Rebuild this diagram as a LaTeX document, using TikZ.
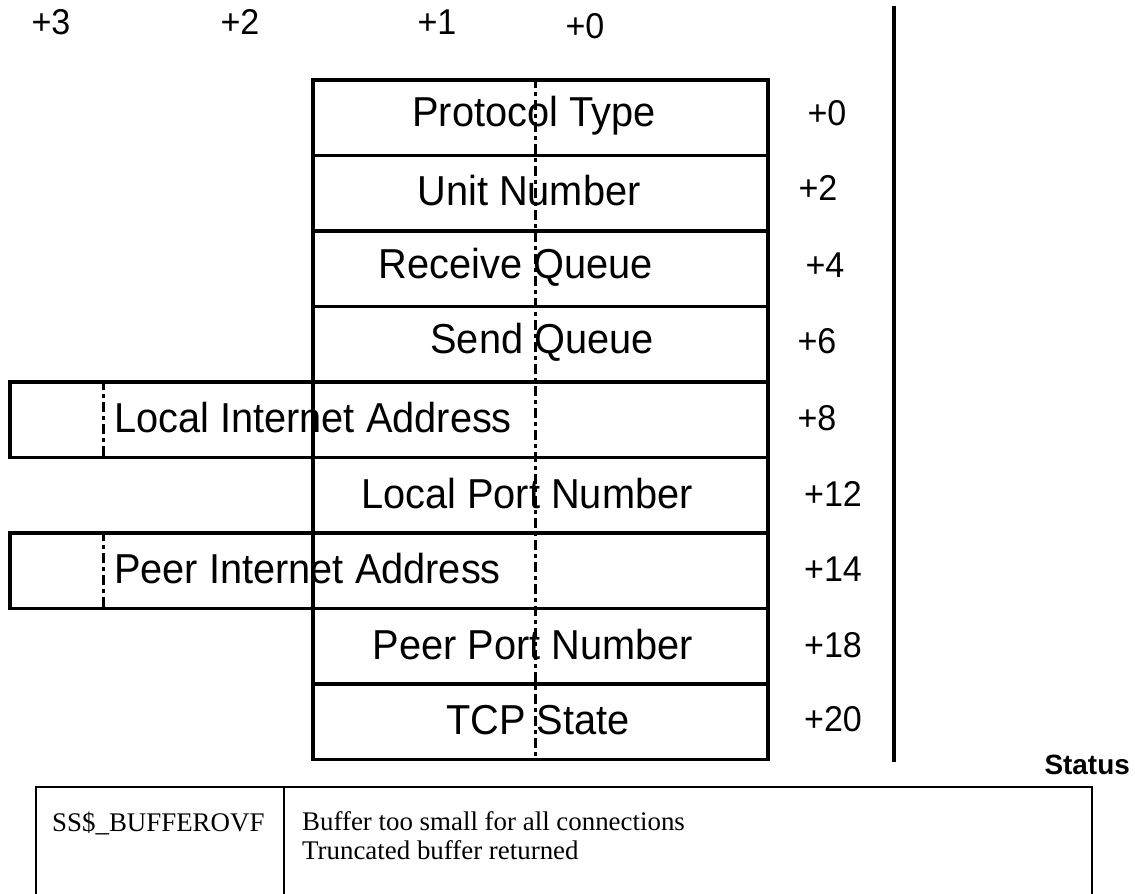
\documentclass[tikz,border=0pt]{standalone}
\usepackage{fontspec}
\newfontfamily\pix[FakeStretch=0.95]{Liberation Sans}
\newfontfamily\tms{Liberation Serif}
\newfontfamily\hb{Liberation Sans}
\begin{document}
\begin{tikzpicture}[x=1bp,y=-1bp,
  rowbox/.style={draw, line width=3.5bp, minimum width=455bp, minimum height=75.5bp, inner sep=0pt, anchor=north west},
  widebox/.style={draw, line width=3.5bp, minimum width=758bp, minimum height=75.5bp, inner sep=0pt, anchor=north west},
  lbl/.style={font=\pix\fontsize{42}{44}\selectfont, inner sep=0pt},
  off/.style={font=\pix\fontsize{36}{38}\selectfont, inner sep=0pt},
  dashline/.style={line width=3bp, dash pattern=on 10bp off 4bp on 4bp off 4bp},
  thickline/.style={line width=3.5bp},
  tabline/.style={line width=2.2bp},
  tabtxt/.style={font=\tms\fontsize{27}{28}\selectfont, inner sep=0pt, anchor=base west}]
\useasboundingbox (0,0) rectangle (1135,894);

% column headers
\node[off] (c3) at (51,22) {+3};
\node[off] (c2) at (240,22) {+2};
\node[off] (c1) at (437,22) {+1};
\node[off] (c0) at (585,26) {+0};

% main column rows
\node[rowbox] (r1) at (311,78) {};
\node[rowbox] (r2) at (311,153.5) {};
\node[rowbox] (r3) at (311,229) {};
\node[rowbox] (r4) at (311,304.5) {};
\node[rowbox] (r5) at (311,380) {};
\node[rowbox] (r6) at (311,455.5) {};
\node[rowbox] (r7) at (311,531) {};
\node[rowbox] (r8) at (311,606.5) {};
\node[rowbox] (r9) at (311,682) {};

% wide rows
\node[widebox] (w5) at (8,380) {};
\node[widebox] (w7) at (8,531) {};

% dashed dividers
\coordinate (dtop) at (535,78);
\coordinate (dbot) at (535,758);
\draw[dashline] (dtop) -- (dbot);
\coordinate (d5t) at (103,380);
\coordinate (d5b) at (103,455.5);
\draw[dashline] (d5t) -- (d5b);
\coordinate (d7t) at (103,531);
\coordinate (d7b) at (103,606.5);
\draw[dashline] (d7t) -- (d7b);

% row texts
\node[lbl] (t1) at (534,116) {Protocol Type};
\node[lbl] (t2) at (529,191) {Unit Number};
\node[lbl] (t3) at (516,267) {Receive Queue};
\node[lbl] (t4) at (542,342) {Send Queue};
\node[lbl, anchor=west] (t5) at (114,418) {Local Internet Address};
\node[lbl] (t6) at (527,494) {Local Port Number};
\node[lbl, anchor=west] (t7) at (114,569) {Peer Internet Address};
\node[lbl] (t8) at (533,645) {Peer Port Number};
\node[lbl] (t9) at (538,720) {TCP State};

% offsets
\node[off] (o0) at (827,113) {+0};
\node[off] (o2) at (818,188) {+2};
\node[off] (o4) at (825,265) {+4};
\node[off] (o6) at (817,341) {+6};
\node[off] (o8) at (817,418) {+8};
\node[off] (o12) at (833,494) {+12};
\node[off] (o14) at (833,569) {+14};
\node[off] (o18) at (833,645) {+18};
\node[off] (o20) at (833,719) {+20};

% separator line
\coordinate (vt) at (894,6);
\coordinate (vb) at (894,762);
\draw[thickline] (vt) -- (vb);

% status table
\node[font=\hb\bfseries\fontsize{28}{30}\selectfont, anchor=base east, inner sep=0pt] (st) at (1130,774) {Status};
\coordinate (tl) at (36,787);
\coordinate (tr) at (1092,787);
\coordinate (bl) at (36,894);
\coordinate (br) at (1092,894);
\coordinate (dt) at (284,787);
\coordinate (db) at (284,894);
\draw[tabline] (bl) -- (tl) -- (tr) -- (br);
\draw[tabline] (dt) -- (db);
\node[tabtxt] (code) at (52,831) {SS\$\_BUFFEROVF};
\node[tabtxt] (desc1) at (302,830) {Buffer too small for all connections};
\node[tabtxt] (desc2) at (302,859) {Truncated buffer returned};
\end{tikzpicture}
\end{document}
